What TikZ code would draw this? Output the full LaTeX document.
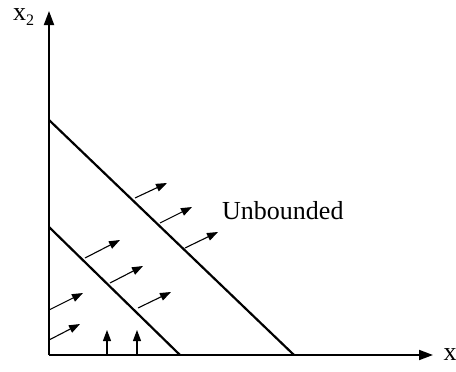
\documentclass[tikz,border=0pt]{standalone}
\usepackage{fontspec}
\setmainfont{Liberation Serif}
\usetikzlibrary{arrows.meta}
\begin{document}
\begin{tikzpicture}[x=1pt,y=-1pt,
  axis/.style={line width=1.8pt,-{Triangle[length=14pt,width=10pt]}},
  bound/.style={line width=2.2pt},
  dir/.style={line width=1.1pt,-{Triangle[length=11pt,width=8pt]}},
  lbl/.style={font=\fontsize{26}{30}\selectfont, inner sep=0pt}]
\useasboundingbox (0,0) rectangle (456,372);
% axes
\coordinate (O) at (49,355);
\coordinate (ytop) at (49,11);
\coordinate (xend) at (433,355);
\draw[axis] (O) -- (ytop);
\draw[axis] (O) -- (xend);
\node[lbl, anchor=base] (xlab) at (450,360) {x};
\node[lbl, anchor=base west] (ylab) at (13,20) {x\raisebox{-5pt}{\fontsize{16}{16}\selectfont 2}};
% constraint lines
\coordinate (a1) at (49,120);
\coordinate (a2) at (294,355);
\coordinate (b1) at (49,227);
\coordinate (b2) at (180,355);
\draw[bound] (a1) -- (a2);
\draw[bound] (b1) -- (b2);
% direction arrows on outer line
\coordinate (p1) at (135,198); \coordinate (q1) at (167,183);
\coordinate (p2) at (160,223); \coordinate (q2) at (192,207);
\coordinate (p3) at (185,248); \coordinate (q3) at (218,232);
% inner line
\coordinate (p4) at (85,258);  \coordinate (q4) at (120,240);
\coordinate (p5) at (110,283); \coordinate (q5) at (143,266);
\coordinate (p6) at (138,308); \coordinate (q6) at (171,292);
% on y axis
\coordinate (p7) at (49,310);  \coordinate (q7) at (83,293);
\coordinate (p8) at (49,340);  \coordinate (q8) at (80,324);
% on x axis
\coordinate (p9) at (107,355);  \coordinate (q9) at (107,330);
\coordinate (p10) at (137,355); \coordinate (q10) at (137,330);
\foreach \i in {1,...,10} \draw[dir] (p\i) -- (q\i);
\node[lbl, anchor=base west] (unb) at (222,219) {Unbounded};
\end{tikzpicture}
\end{document}
